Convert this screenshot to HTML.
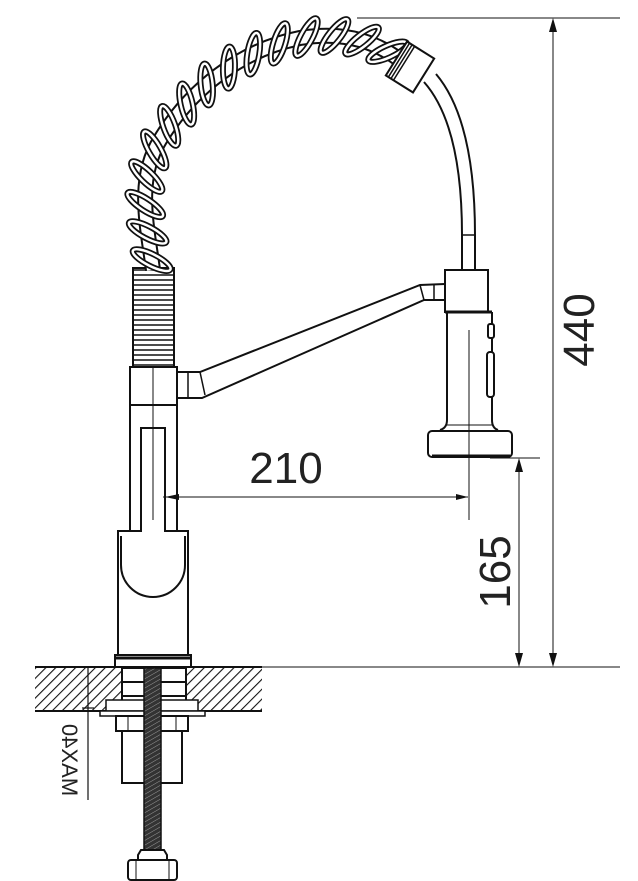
<!DOCTYPE html>
<html><head><meta charset="utf-8"><style>
html,body{margin:0;padding:0;background:#fff;}
svg{display:block;}
text{font-family:"Liberation Sans",sans-serif;fill:#222;}
</style></head><body>
<svg id="s" width="638" height="881" viewBox="0 0 638 881" xmlns="http://www.w3.org/2000/svg">
<defs>
<pattern id="h" width="7" height="7" patternUnits="userSpaceOnUse" patternTransform="rotate(45)">
<rect width="7" height="7" fill="#fff"/><line x1="0" y1="0" x2="0" y2="7" stroke="#111" stroke-width="2.2"/>
</pattern>
<pattern id="th" width="4" height="4" patternUnits="userSpaceOnUse" patternTransform="rotate(60)">
<rect width="4" height="4" fill="#333"/><line x1="0" y1="0" x2="0" y2="4" stroke="#999" stroke-width="1"/>
</pattern>
<marker id="ar" viewBox="0 0 12 6" refX="12" refY="3" markerWidth="12" markerHeight="6" orient="auto" markerUnits="userSpaceOnUse"><path d="M0,0L12,3L0,6z" fill="#111"/></marker>
</defs>
<g fill="none" stroke="#111" stroke-width="2">
<rect x="35" y="667" width="227" height="44" fill="url(#h)" stroke="none"/>
<line x1="35" y1="667" x2="262" y2="667"/>
<line x1="35" y1="711" x2="262" y2="711"/>
<line x1="262" y1="667" x2="620" y2="667" stroke-width="1"/>
<rect x="122" y="668" width="64" height="42" fill="#fff"/>
<line x1="122" y1="682" x2="186" y2="682"/><line x1="122" y1="696" x2="186" y2="696"/>
<rect x="106" y="700" width="92" height="11" fill="#fff" stroke-width="1.5"/>
<rect x="100" y="711" width="105" height="5" fill="#fff" stroke-width="1.5"/>
<rect x="116" y="716" width="72" height="15" fill="#fff"/>
<line x1="128" y1="716" x2="128" y2="731" stroke-width="1"/><line x1="176" y1="716" x2="176" y2="731" stroke-width="1"/>
<rect x="122" y="731" width="60" height="52" fill="#fff"/>
<rect x="144" y="668" width="17" height="182" fill="url(#th)" stroke="#111" stroke-width="1.5"/>
<path d="M141,850 h23 l3,5 v6 h-29 v-6z" fill="#fff"/>
<rect x="128" y="860" width="49" height="20" rx="3" fill="#fff"/>
<line x1="136" y1="860" x2="136" y2="880" stroke-width="1"/><line x1="169" y1="860" x2="169" y2="880" stroke-width="1"/>
<line x1="88" y1="668" x2="88" y2="800" stroke-width="1.2"/>
<line x1="82" y1="708" x2="94" y2="708" stroke-width="1.2"/>
<rect x="115" y="655" width="76" height="12" fill="#fff"/>
<line x1="115" y1="658" x2="191" y2="658" stroke-width="3"/>
<path d="M118,531 H141 V517 H165 V531 H188 V655 H118 Z" fill="#fff"/>
<path d="M121,536 V565 A32,32 0 0 0 185,565 V536" />
<path d="M130,405 V531 M177,405 V531"/>
<path d="M141,531 V428 H165 V531" fill="#fff"/>
<rect x="130" y="367" width="47" height="38" fill="#fff"/>
<line x1="153" y1="330" x2="153" y2="520" stroke-width="1"/>
<path d="M177,372 H200 L420,285 L445,284 M177,398 H202 L424,300 L445,300" />
<line x1="188" y1="372" x2="188" y2="398" stroke-width="1.5"/>
<line x1="200" y1="372" x2="205" y2="395" stroke-width="1.5"/>
<line x1="420" y1="285" x2="424" y2="300" stroke-width="1.5"/>
<line x1="434" y1="284" x2="434" y2="300" stroke-width="1.5"/>
<rect x="445" y="270" width="43" height="42" fill="#fff"/>
<path d="M447,312 V420 Q447,428 440,430 M492,312 V420 Q492,428 498,430" />
<line x1="445" y1="312" x2="492" y2="312" stroke-width="3"/>
<line x1="447" y1="425" x2="492" y2="425" stroke-width="1"/>
<rect x="488" y="324" width="6" height="14" rx="2" fill="#fff"/>
<rect x="487" y="352" width="7" height="45" rx="3" fill="#fff"/>
<rect x="428" y="431" width="84" height="26" rx="4" fill="#fff"/>
<line x1="432" y1="456" x2="510" y2="456" stroke-width="3"/>
<line x1="469" y1="330" x2="469" y2="520" stroke-width="1"/>
<path d="M424,82 Q462,125 462,235 V270 M436,74 Q475,120 475,235 V270"/>
<line x1="462" y1="235" x2="475" y2="235" stroke-width="1.5"/>
<rect x="133" y="268" width="41" height="99" fill="#fff"/>
</g>
<g id="corr" stroke="#111" stroke-width="1.6"></g>
<path id="sp" d="M153,270 C148,230 135,180 160,140 C190,90 240,50 300,38 C350,30 380,45 400,60" fill="none" stroke="#111" stroke-width="16"/>
<path d="M153,270 C148,230 135,180 160,140 C190,90 240,50 300,38 C350,30 380,45 400,60" fill="none" stroke="#fff" stroke-width="12"/>
<g id="coils"></g>
<g transform="translate(410,67) rotate(32)" fill="#fff" stroke="#111" stroke-width="2">
<rect x="-16" y="-20" width="32" height="40"/>
<line x1="-10" y1="-20" x2="-10" y2="20" stroke-width="1.5"/>
<line x1="-13" y1="-20" x2="-13" y2="20" stroke-width="1.5"/>
<line x1="-7" y1="-20" x2="-7" y2="20" stroke-width="1.5"/>
</g>
<g stroke="#111" stroke-width="1" fill="none">
<line x1="357" y1="18" x2="620" y2="18"/>
<line x1="553" y1="30" x2="553" y2="655" />
<line x1="490" y1="458" x2="540" y2="458"/>
<line x1="519" y1="470" x2="519" y2="655"/>
<line x1="177" y1="497" x2="468" y2="497" marker-end="url(#ar)"/>
<line x1="178" y1="497" x2="163" y2="497"/>
</g>
<path d="M553,18 l-4,14 h8z M553,667 l-4,-14 h8z M519,458 l-4,14 h8z M519,667 l-4,-14 h8z M165,497 l14,-3 v6z" fill="#111"/>
<text x="286" y="483" font-size="44" text-anchor="middle">210</text>
<text transform="translate(594,330) rotate(-90)" font-size="44" text-anchor="middle">440</text>
<text transform="translate(510,572) rotate(-90)" font-size="44" text-anchor="middle">165</text>
<text transform="translate(62,760) rotate(90) scale(-1,1)" font-size="22" text-anchor="middle">MAX40</text>
</svg>
<script>
var ns="http://www.w3.org/2000/svg";
var c=document.getElementById("corr");
for(var y=270;y<367;y+=5){var l=document.createElementNS(ns,"line");l.setAttribute("x1",133);l.setAttribute("x2",174);l.setAttribute("y1",y);l.setAttribute("y2",y);c.appendChild(l);}
var p=document.getElementById("sp"),L=p.getTotalLength(),g=document.getElementById("coils");
for(var d=10;d<L-8;d+=28){
 var a=p.getPointAtLength(d),b=p.getPointAtLength(Math.min(d+1,L));
 var ang=Math.atan2(b.y-a.y,b.x-a.x)*180/Math.PI;
 [["#111",6],["#fff",2.5]].forEach(function(s){
  var e=document.createElementNS(ns,"ellipse");
  e.setAttribute("cx",0);e.setAttribute("cy",0);e.setAttribute("rx",6);e.setAttribute("ry",21);
  e.setAttribute("fill","none");e.setAttribute("stroke",s[0]);e.setAttribute("stroke-width",s[1]);
  e.setAttribute("transform","translate("+a.x+","+a.y+") rotate("+(ang+35)+")");
  g.appendChild(e);});
}
</script>
</body></html>
